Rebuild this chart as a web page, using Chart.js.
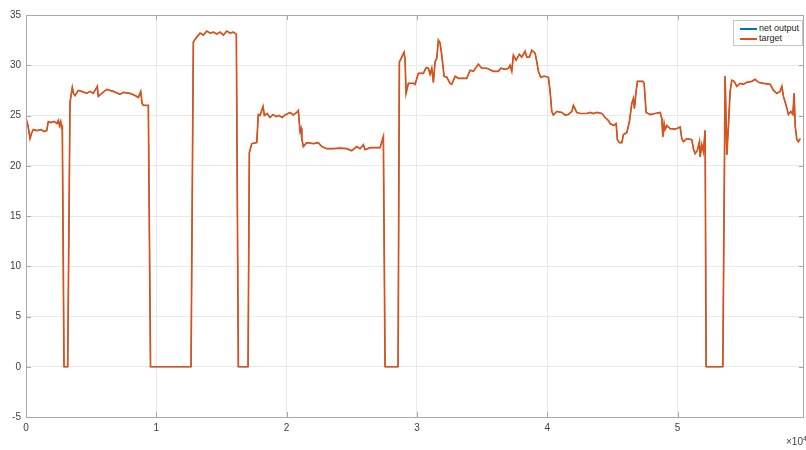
<!DOCTYPE html>
<html>
<head>
<meta charset="utf-8">
<script src="https://cdn.jsdelivr.net/npm/chart.js@4/dist/chart.umd.min.js"></script>
<style>
  html, body { margin: 0; padding: 0; background: #fff; overflow: hidden; }
  #wrap { position: relative; width: 806px; height: 450px; overflow: hidden; }
  #legend {
    position: absolute; left: 733px; top: 20px; width: 68px; height: 24px;
    border: 1px solid #c4c4c4; background: #fff;
    font: 9px "Liberation Sans", Arial, sans-serif; color: #222;
  }
  #legend .row { position: absolute; left: 6px; height: 10px; line-height: 10px; white-space: nowrap; }
  #legend .sw { display: inline-block; width: 17px; height: 2px; vertical-align: middle; margin-right: 2px; }
  #expo {
    position: absolute; left: 786px; top: 435px; white-space: nowrap;
    font: 10px "Liberation Sans", Arial, sans-serif; color: #404040;
  }
  #expo sup { font-size: 7px; }
</style>
</head>
<body>
<div id="wrap">
  <canvas id="chart" width="806" height="450"></canvas>
  <div id="legend">
    <div class="row" style="top:2px"><span class="sw" style="background:#0072BD"></span>net output</div>
    <div class="row" style="top:12px"><span class="sw" style="background:#D95319"></span>target</div>
  </div>
  <div id="expo">×10<sup>4</sup></div>
</div>
<script>
// sample index along the record
const sampleIdx = [
    0, 154, 307, 422, 560, 844, 1151, 1382, 1589, 1712, 1919, 2149, 2379, 2479, 2571, 2663, 2725, 2786,
    2917, 3200, 3377, 3554, 3646, 3761, 4014, 4275, 4659, 4912, 5165, 5472, 5549, 5810, 6194, 6700,
    7215, 7468, 7982, 8366, 8619, 8803, 8903, 9003, 9387, 9555,
    12664, 12840, 13101, 13355, 13608, 13869, 14122, 14375, 14636, 14890, 15143, 15404, 15657, 15910, 16141,
    16294, 17039, 17138, 17322, 17706, 17829, 17960, 18190, 18290, 18497, 18727, 18957, 19188, 19418, 19648,
    19878, 20262, 20515, 20776, 20899, 21030, 21106, 21160, 21283, 21544, 22050, 22434, 22695, 23079,
    23585, 24100, 24614, 24997, 25381, 25635, 25888, 26018, 26402, 27170, 27423, 27553,
    28551, 28651, 28835, 29012, 29088, 29165, 29342, 29725, 29856, 30109, 30493, 30700, 30877, 31007,
    31137, 31260, 31391, 31521, 31644, 31775, 31905, 32082, 32289, 32542, 32672, 32926, 33179, 33824,
    34077, 34330, 34714, 34975, 35359, 35865, 36249, 36433, 36763, 37017, 37147, 37277, 37400, 37608,
    37861, 38045, 38298, 38429, 38628, 38812, 39066, 39196, 39319, 39503, 39703, 39833, 40087,
    40217, 40347, 40470, 40731, 41115, 41368, 41622, 41882, 42005, 42266, 42520, 43034, 43287, 43540,
    43801, 44185, 44438, 44692, 44822, 45075, 45283, 45382, 45536, 45720, 45843, 46104, 46303, 46487,
    46610, 46687, 46818, 46917, 47125, 47332, 47432, 47585, 47892, 48276, 48660, 48790, 48867, 48967,
    49043, 49174, 49427, 49811, 49941, 50195, 50325, 50448, 50709, 51092, 51215, 51346, 51522, 51676,
    51730, 51860, 51983, 52113, 52190, 53472,
    53648, 53779, 53902, 54032, 54162, 54339, 54546, 54800, 55053, 55314, 55697, 55951, 56204, 56588,
    57102, 57355, 57616, 57870, 58000, 58123, 58330, 58507, 58691, 58844, 58944, 59021, 59151, 59274, 59405
];

const target = [
    24.7, 24.0, 22.7, 23.2, 23.6, 23.5, 23.6, 23.4, 23.5, 24.4, 24.3, 24.4, 24.2, 24.5, 24.0, 24.4, 23.8, 23.9,
    0, 0, 26.3, 27.8, 27.2, 26.97, 27.5, 27.4, 27.2, 27.4, 27.2, 27.9, 26.9, 27.2, 27.6, 27.4,
    27.1, 27.3, 27.2, 27.0, 26.8, 27.4, 26.2, 26.0, 26.0, 0,
    0, 32.3, 32.8, 33.2, 33.0, 33.4, 33.2, 33.3, 33.1, 33.3, 33.0, 33.4, 33.2, 33.3, 33.1,
    0, 0, 21.3, 22.2, 22.3, 25.1, 25.0, 25.9, 25.0, 25.2, 24.8, 25.1, 24.9, 25.0, 24.8,
    25.05, 25.3, 25.05, 25.3, 25.5, 23.4, 23.7, 22.7, 21.9, 22.3, 22.2, 22.3, 21.9, 21.7,
    21.7, 21.75, 21.7, 21.5, 21.9, 21.7, 22.1, 21.6, 21.8, 21.8, 22.9, 0,
    0, 30.3, 30.8, 31.3, 30.6, 27.2, 28.2, 28.2, 28.1, 29.2, 29.2, 29.75, 29.7, 29.1,
    29.7, 28.3, 30.35, 30.7, 32.5, 32.2, 31.0, 28.9, 28.8, 28.2, 28.1, 28.9, 28.7, 28.7,
    29.5, 29.4, 30.1, 29.7, 29.7, 29.4, 29.4, 29.7, 29.6, 29.7, 30.0, 29.4, 31.0, 30.5,
    31.1, 30.8, 31.4, 30.8, 30.8, 31.5, 31.2, 30.35, 29.4, 28.8, 28.9, 28.9, 28.8,
    27.4, 25.4, 25.05, 25.4, 25.3, 25.05, 25.1, 25.4, 26.0, 25.3, 25.2, 25.2, 25.3, 25.2,
    25.3, 25.2, 24.8, 24.5, 24.2, 24.0, 24.2, 22.6, 22.3, 22.3, 23.1, 23.3, 24.4, 26.2,
    26.7, 25.7, 27.4, 28.4, 28.4, 28.4, 28.2, 25.3, 25.1, 25.2, 25.3, 24.7, 22.9, 24.2,
    23.6, 24.0, 23.7, 23.65, 23.7, 23.85, 22.7, 22.4, 22.7, 22.6, 21.7, 21.2, 21.55, 22.4,
    20.9, 22.1, 21.4, 23.5, 0, 0,
    28.9, 21.1, 24.0, 27.4, 28.5, 28.4, 27.9, 28.2, 28.1, 28.3, 28.4, 28.6, 28.3, 28.2,
    28.1, 27.5, 27.2, 27.4, 27.9, 26.9, 26.0, 25.1, 25.4, 25.1, 27.2, 24.0, 22.6, 22.4, 22.7
];

// network output lies under the target trace everywhere
const netOutput = target;

const xMax = 59700;
const xTicks = [0, 10000, 20000, 30000, 40000, 50000];
const yTicks = [-5, 0, 5, 10, 15, 20, 25, 30, 35];

const toPoints = ys => sampleIdx.map((x, i) => ({ x: x, y: ys[i] }));

// box around the axes with inward tick marks (matlab look)
const boxPlugin = {
    id: 'box',
    afterDraw(chart) {
        const { ctx, chartArea: a, scales } = chart;
        ctx.save();
        ctx.strokeStyle = '#a8a8a8';
        ctx.lineWidth = 1;
        ctx.strokeRect(a.left + 0.5, a.top + 0.5, a.right - a.left - 1, a.bottom - a.top);
        ctx.beginPath();
        scales.x.ticks.forEach(t => {
            const px = Math.round(scales.x.getPixelForValue(t.value)) + 0.5;
            ctx.moveTo(px, a.bottom); ctx.lineTo(px, a.bottom - 5);
            ctx.moveTo(px, a.top); ctx.lineTo(px, a.top + 5);
        });
        scales.y.ticks.forEach(t => {
            const py = Math.round(scales.y.getPixelForValue(t.value)) + 0.5;
            ctx.moveTo(a.left, py); ctx.lineTo(a.left + 5, py);
            ctx.moveTo(a.right, py); ctx.lineTo(a.right - 5, py);
        });
        ctx.stroke();
        ctx.restore();
    }
};

new Chart(document.getElementById('chart'), {
    type: 'line',
    data: {
        datasets: [
            {
                label: 'net output',
                data: toPoints(netOutput),
                borderColor: '#0072BD',
                borderWidth: 1,
                pointRadius: 0,
                tension: 0,
                order: 1
            },
            {
                label: 'target',
                data: toPoints(target),
                borderColor: '#D95319',
                borderWidth: 1.7,
                pointRadius: 0,
                tension: 0,
                order: 0
            }
        ]
    },
    options: {
        responsive: false,
        animation: false,
        layout: { padding: { top: 15, right: 2, left: 0, bottom: 0 } },
        plugins: { legend: { display: false }, tooltip: { enabled: false } },
        scales: {
            x: {
                type: 'linear',
                min: 0,
                max: xMax,
                afterFit: s => { s.height = 33; },
                afterBuildTicks: s => { s.ticks = xTicks.map(v => ({ value: v })); },
                grid: { color: '#e9e9e9', drawTicks: false },
                border: { display: false },
                ticks: {
                    padding: 5,
                    maxRotation: 0,
                    color: '#404040',
                    font: { family: 'Liberation Sans', size: 10 },
                    callback: v => String(v / 10000)
                }
            },
            y: {
                min: -5,
                max: 35,
                afterFit: s => { s.width = 26; },
                afterBuildTicks: s => { s.ticks = yTicks.map(v => ({ value: v })); },
                grid: { color: '#e9e9e9', drawTicks: false },
                border: { display: false },
                ticks: {
                    padding: 5,
                    color: '#404040',
                    font: { family: 'Liberation Sans', size: 10 }
                }
            }
        }
    },
    plugins: [boxPlugin]
});
</script>
</body>
</html>
